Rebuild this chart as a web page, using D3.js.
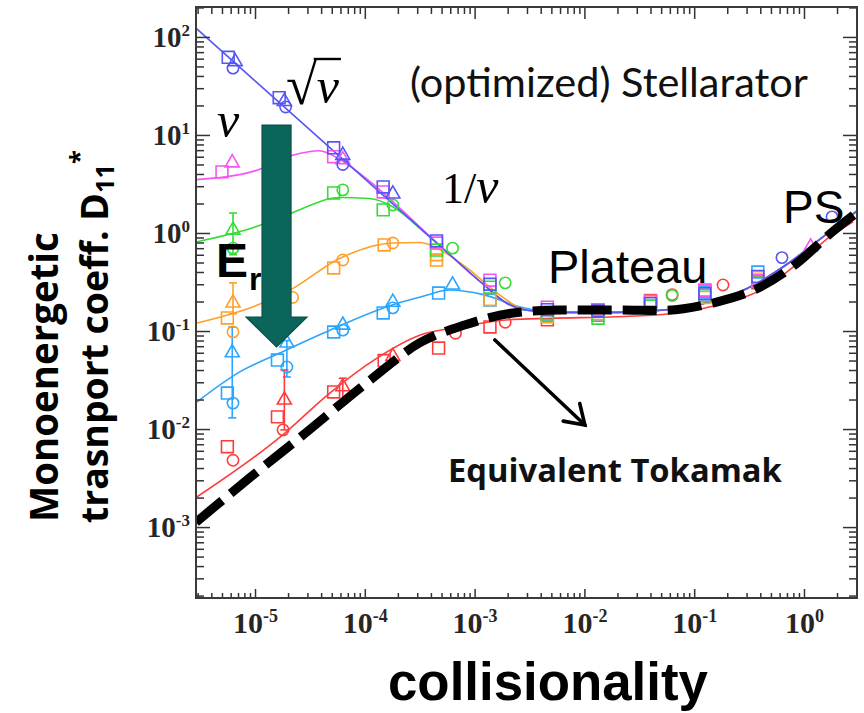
<!DOCTYPE html>
<html>
<head>
<meta charset="utf-8">
<script src="https://cdn.jsdelivr.net/npm/d3@7"></script>
<style>
  body { margin: 0; background: #fff; }
  svg { display: block; }
  .tick line { stroke: #333; stroke-width: 1.5; }
  .tick-label { font-family: "Liberation Serif", "Times New Roman", serif; font-weight: bold; fill: #262626; }
</style>
</head>
<body>
<div id="chart"></div>
<script>
// ---- Data (collisionality nu*, D11*) ----
const xDomain = [2.9e-6, 3.04];
const yDomain = [1.89e-4, 202];
const xMajor = [1e-5, 1e-4, 1e-3, 1e-2, 1e-1, 1];
const yMajor = [1e-3, 1e-2, 1e-1, 1, 10, 100];

// fitted curves
const blueFit = [[2.9e-6, 123], [1e-5, 35.7], [1e-4, 3.57], [5e-4, 0.715], [1.2e-3, 0.30], [2e-3, 0.19],
  [3e-3, 0.163], [6e-3, 0.155], [2e-2, 0.155], [5e-2, 0.163], [0.12, 0.19], [0.3, 0.27], [0.7, 0.48], [1.5, 0.92], [3.04, 1.68]];
const magentaHead = [[2.9e-6, 3.5], [1e-5, 4.3], [2.2e-5, 6.2], [3.8e-5, 6.9], [6.3e-5, 5.4], [1e-4, 3.7]];
const greenHead = [[2.9e-6, 0.81], [1e-5, 1.15], [2.1e-5, 1.58], [5.9e-5, 2.3], [1.1e-4, 2.25], [1.8e-4, 1.85], [3.4e-4, 1.04]];
const orangeHead = [[2.9e-6, 0.12], [1e-5, 0.18], [2.1e-5, 0.263], [5.9e-5, 0.55], [1.8e-4, 0.79], [3.2e-4, 0.8],
  [5e-4, 0.66], [9e-4, 0.42], [1.6e-3, 0.245]];
const lightBlueHead = [[2.9e-6, 0.0186], [6.9e-6, 0.037], [1.7e-5, 0.06], [4.8e-5, 0.102], [1.8e-4, 0.185], [3.2e-4, 0.222],
  [5.9e-4, 0.262], [1.2e-3, 0.235], [2.6e-3, 0.176]];
const redFit = [[2.9e-6, 2.0e-3], [1.7e-5, 8.3e-3], [4.8e-5, 0.0233], [1.26e-4, 0.052], [3.2e-4, 0.091], [7.4e-4, 0.11],
  [1.8e-3, 0.129], [5e-3, 0.135], [2e-2, 0.14], [6e-2, 0.15], [0.15, 0.18], [0.4, 0.26], [1, 0.55], [1.8, 0.95], [2.8, 1.3]];
const tokamakFit = [[2.9e-6, 1.12e-3], [9e-6, 3.2e-3], [2.57e-5, 8.2e-3], [1.12e-4, 0.0316], [3.18e-4, 0.076], [8.1e-4, 0.115],
  [2.24e-3, 0.153], [6e-3, 0.164], [2.1e-2, 0.164], [5e-2, 0.162], [0.148, 0.193], [0.397, 0.28], [0.86, 0.49], [1.8, 1.02], [3.04, 1.62]];

// markers: [shape, nu, D]   s = square, c = circle, t = triangle
const redMarks = [["s", 5.6e-6, 6.6e-3], ["c", 6.3e-6, 4.8e-3], ["s", 1.6e-5, 0.0133], ["t", 1.85e-5, 0.0198], ["c", 1.8e-5, 0.0098],
  ["s", 5.2e-5, 0.0239], ["t", 6.3e-5, 0.027], ["s", 1.5e-4, 0.05], ["t", 1.8e-4, 0.055], ["s", 4.7e-4, 0.067], ["c", 6.7e-4, 0.095],
  ["s", 1.38e-3, 0.11], ["c", 1.9e-3, 0.123], ["s", 4.6e-3, 0.13], ["s", 1.33e-2, 0.165], ["s", 4e-2, 0.205], ["c", 0.063, 0.235],
  ["s", 0.125, 0.26], ["c", 0.183, 0.295], ["s", 0.38, 0.31]];
const lightBlueMarks = [["t", 6.2e-6, 0.06], ["s", 5.6e-6, 0.0233], ["c", 6.3e-6, 0.0184], ["s", 1.6e-5, 0.0506], ["t", 1.95e-5, 0.0755],
  ["c", 1.95e-5, 0.043], ["s", 5.2e-5, 0.0977], ["t", 6.3e-5, 0.115], ["c", 6.3e-5, 0.102], ["s", 1.47e-4, 0.153], ["t", 1.8e-4, 0.197],
  ["c", 1.8e-4, 0.172], ["s", 4.7e-4, 0.244], ["t", 6.3e-4, 0.295], ["s", 1.38e-3, 0.207], ["s", 4.6e-3, 0.145], ["s", 1.33e-2, 0.145],
  ["s", 0.125, 0.25], ["s", 0.38, 0.4]];
const orangeMarks = [["t", 6.3e-6, 0.193], ["s", 5.6e-6, 0.136], ["c", 6.3e-6, 0.098], ["c", 2.2e-5, 0.22], ["s", 5.2e-5, 0.44],
  ["c", 6.3e-5, 0.53], ["s", 1.5e-4, 0.755], ["c", 1.8e-4, 0.79], ["s", 4.5e-4, 0.53], ["s", 4.5e-4, 0.6], ["s", 1.38e-3, 0.21],
  ["s", 4.6e-3, 0.14], ["s", 1.33e-2, 0.15], ["s", 4e-2, 0.2], ["s", 0.125, 0.22], ["s", 0.38, 0.35]];
const greenMarks = [["t", 6.3e-6, 1.07], ["c", 6.3e-6, 0.70], ["s", 5.2e-5, 2.56], ["c", 6.3e-5, 2.75], ["s", 1.47e-4, 1.72],
  ["c", 1.8e-4, 1.93], ["s", 4.5e-4, 0.67], ["c", 6.3e-4, 0.70], ["s", 1.38e-3, 0.28], ["c", 1.9e-3, 0.31], ["s", 4.6e-3, 0.15],
  ["s", 1.33e-2, 0.135], ["s", 4e-2, 0.18], ["c", 0.063, 0.23], ["s", 0.125, 0.23], ["s", 0.38, 0.32]];
const magentaMarks = [["s", 5.0e-6, 4.2], ["t", 6.2e-6, 5.2], ["s", 5.2e-5, 6.0], ["t", 6.3e-5, 5.6], ["s", 1.47e-4, 2.62],
  ["s", 4.5e-4, 0.79], ["s", 1.38e-3, 0.33], ["s", 4.6e-3, 0.175], ["s", 1.33e-2, 0.165], ["s", 4e-2, 0.2], ["s", 0.125, 0.26],
  ["s", 0.38, 0.33], ["t", 1.15, 0.72]];
const blueMarks = [["s", 5.7e-6, 62], ["c", 6.3e-6, 48], ["t", 6.6e-6, 56], ["s", 1.66e-5, 24], ["c", 1.9e-5, 19.3], ["t", 1.85e-5, 22],
  ["s", 5.2e-5, 7.4], ["t", 6.3e-5, 6.2], ["c", 6.3e-5, 5.0], ["s", 1.47e-4, 2.95], ["t", 1.8e-4, 2.5], ["s", 4.5e-4, 0.83],
  ["s", 1.38e-3, 0.30], ["s", 4.6e-3, 0.165], ["s", 1.33e-2, 0.16], ["s", 4e-2, 0.19], ["s", 0.125, 0.24], ["s", 0.38, 0.36],
  ["c", 0.63, 0.56], ["c", 1.8, 1.46]];

// error bars: [series, nu, low, high]
const errorBars = [["green", 6.3e-6, 0.6, 1.6], ["orange", 6.3e-6, 0.15, 0.31], ["lightBlue", 6.2e-6, 0.013, 0.11],
  ["lightBlue", 1.95e-5, 0.034, 0.08], ["red", 1.85e-5, 0.0098, 0.04], ["red", 6.3e-5, 0.018, 0.033]];

// annotations in data coordinates
const erArrow = { nu: 1.57e-5, top: 12.6, neck: 0.139, tip: 0.0687 };
const tokArrow = [[1.53e-3, 0.081], [0.0101, 0.011]];

const colors = { red: "#ff3c3c", lightBlue: "#2aa6ff", orange: "#ffa02a", green: "#36dc36", magenta: "#f455f4", blue: "#5656f6" };

// ---- Layout ----
const W = 864, H = 713;
const margin = { top: 7, left: 196, right: 7, bottom: 115 };
const width = W - margin.left - margin.right;
const height = H - margin.top - margin.bottom;

const svgRoot = d3.select('#chart').append('svg').attr('width', W).attr('height', H);
const svg = svgRoot.append('g').attr('transform', `translate(${margin.left},${margin.top})`);

const x = d3.scaleLog().domain(xDomain).range([0, width]);
const y = d3.scaleLog().domain(yDomain).range([height, 0]);

svg.append('clipPath').attr('id', 'plot-clip')
  .append('rect').attr('width', width).attr('height', height);
const plot = svg.append('g').attr('clip-path', 'url(#plot-clip)');

// --- Ticks ---
const xMinor = x.ticks().filter(d => !xMajor.some(m => Math.abs(m - d) / m < 1e-9));
const yMinor = y.ticks().filter(d => !yMajor.some(m => Math.abs(m - d) / m < 1e-9));

function supLabels(sel, fs, expFs) {
  sel.selectAll('.tick text').each(function (d) {
    const t = d3.select(this);
    t.text(null).attr('class', 'tick-label').attr('font-size', fs).attr('fill', null);
    t.append('tspan').text('10');
    t.append('tspan').attr('font-size', expFs).attr('dy', '-0.62em').text(Math.round(Math.log10(d)));
  });
}

const gx = svg.append('g').attr('transform', `translate(0,${height})`)
  .call(d3.axisBottom(x).tickValues(xMinor).tickSize(-5).tickFormat(''));
const gxM = svg.append('g').attr('transform', `translate(0,${height})`)
  .call(d3.axisBottom(x).tickValues(xMajor).tickSize(-9).tickPadding(14));
supLabels(gxM, 30, 18);
const gt = svg.append('g').call(d3.axisTop(x).tickValues(xMinor).tickSize(-7).tickFormat(''));
const gtM = svg.append('g').call(d3.axisTop(x).tickValues(xMajor).tickSize(-12).tickFormat(''));

const gy = svg.append('g').call(d3.axisLeft(y).tickValues(yMinor).tickSize(-8).tickFormat(''));
const gyM = svg.append('g').call(d3.axisLeft(y).tickValues(yMajor).tickSize(-14).tickPadding(6));
supLabels(gyM, 29, 17);
const gr = svg.append('g').attr('transform', `translate(${width},0)`)
  .call(d3.axisRight(y).tickValues(yMinor).tickSize(-8).tickFormat(''));
const grM = svg.append('g').attr('transform', `translate(${width},0)`)
  .call(d3.axisRight(y).tickValues(yMajor).tickSize(-14).tickFormat(''));
[gx, gxM, gt, gtM, gy, gyM, gr, grM].forEach(g => g.select('.domain').remove());

svg.append('rect').attr('width', width).attr('height', height)
  .attr('fill', 'none').attr('stroke', '#3a3a3a').attr('stroke-width', 2);

// --- Fitted curves ---
const line = d3.line().x(d => x(d[0])).y(d => y(d[1])).curve(d3.curveMonotoneX);
const withTail = head => head.concat(blueFit.filter(p => p[0] > head[head.length - 1][0] * 1.3));

const fits = [
  ['red', redFit],
  ['lightBlue', withTail(lightBlueHead)],
  ['orange', withTail(orangeHead)],
  ['green', withTail(greenHead)],
  ['magenta', withTail(magentaHead)],
  ['blue', blueFit]
];
fits.forEach(([k, pts]) => {
  plot.append('path').attr('d', line(pts))
    .attr('fill', 'none').attr('stroke', colors[k]).attr('stroke-width', 1.6);
});

// --- Error bars ---
errorBars.forEach(([k, nu, lo, hi]) => {
  const g = plot.append('g').attr('stroke', colors[k]).attr('stroke-width', 1.6);
  g.append('line').attr('x1', x(nu)).attr('x2', x(nu)).attr('y1', y(lo)).attr('y2', y(hi));
  [lo, hi].forEach(v => g.append('line').attr('x1', x(nu) - 4).attr('x2', x(nu) + 4).attr('y1', y(v)).attr('y2', y(v)));
});

// --- Markers ---
const symbolFor = { s: d3.symbol(d3.symbolSquare, 140), c: d3.symbol(d3.symbolCircle, 100), t: d3.symbol(d3.symbolTriangle, 85) };
const markSets = [['red', redMarks], ['lightBlue', lightBlueMarks], ['orange', orangeMarks], ['green', greenMarks],
  ['magenta', magentaMarks], ['blue', blueMarks]];
markSets.forEach(([k, marks]) => {
  plot.selectAll(null).data(marks).enter().append('path')
    .attr('d', d => symbolFor[d[0]]())
    .attr('transform', d => `translate(${x(d[1])},${y(d[2])})`)
    .attr('fill', 'none').attr('stroke', colors[k]).attr('stroke-width', 1.6);
});

// --- Equivalent tokamak (thick dashed) ---
plot.append('path').attr('d', line(tokamakFit))
  .attr('fill', 'none').attr('stroke', '#000').attr('stroke-width', 9)
  .attr('stroke-dasharray', '34,11');

// --- E_r arrow ---
{
  const cx = x(erArrow.nu), yt = y(erArrow.top), yn = y(erArrow.neck), yp = y(erArrow.tip);
  const sw = 14.5, hw = 30.5;
  svg.append('path')
    .attr('d', `M${cx - sw},${yt}H${cx + sw}V${yn}H${cx + hw}L${cx},${yp}L${cx - hw},${yn}H${cx - sw}Z`)
    .attr('fill', '#0a665a').attr('stroke', '#0b4f46').attr('stroke-width', 1.2);
}

// --- Tokamak pointer arrow ---
{
  const [a, b] = tokArrow.map(p => [x(p[0]), y(p[1])]);
  const ang = Math.atan2(b[1] - a[1], b[0] - a[0]);
  const L = 22, spread = 0.58;
  const g = svg.append('g').attr('stroke', '#000').attr('stroke-width', 3.6).attr('fill', 'none').attr('stroke-linecap', 'round');
  g.append('line').attr('x1', a[0]).attr('y1', a[1]).attr('x2', b[0]).attr('y2', b[1]);
  g.append('path').attr('d',
    `M${b[0] - L * Math.cos(ang - spread)},${b[1] - L * Math.sin(ang - spread)}L${b[0]},${b[1]}` +
    `L${b[0] - L * Math.cos(ang + spread)},${b[1] - L * Math.sin(ang + spread)}`);
}

// --- Text annotations (absolute page coordinates) ---
// scale a text's font size so that its advance matches the reference width
function fitWidth(sel, target) {
  const fs = +sel.attr('font-size');
  const len = sel.node().getComputedTextLength();
  sel.attr('font-size', fs * target / len);
  return sel;
}

const ann = svgRoot.append('g');
fitWidth(ann.append('text').attr('x', 410).attr('y', 97)
  .attr('font-family', 'Lato, "Open Sans", sans-serif').attr('font-size', 40).attr('fill', '#111')
  .text('(optimized) Stellarator'), 398);

ann.append('text').attr('x', 217).attr('y', 137)
  .attr('font-family', '"Liberation Serif", serif').attr('font-style', 'italic').attr('font-size', 50)
  .text('ν');

// sqrt(nu): radical sign, nu, and the vinculum over nu
const rad = ann.append('text').attr('x', 286).attr('y', 104)
  .attr('font-family', '"Liberation Serif", serif').attr('font-size', 56).text('√');
const radEnd = 286 + rad.node().getComputedTextLength();
const nuS = ann.append('text').attr('x', radEnd).attr('y', 103)
  .attr('font-family', '"Liberation Serif", serif').attr('font-style', 'italic').attr('font-size', 50).text('ν');
const nuEnd = radEnd + nuS.node().getComputedTextLength();
ann.append('line').attr('x1', radEnd - 3).attr('x2', nuEnd + 2)
  .attr('y1', 59).attr('y2', 59).attr('stroke', '#000').attr('stroke-width', 2.4);

const inv = ann.append('text').attr('x', 442).attr('y', 203)
  .attr('font-family', '"Liberation Serif", serif').attr('font-size', 44);
inv.append('tspan').text('1/');
inv.append('tspan').attr('font-style', 'italic').attr('font-size', 50).text('ν');

ann.append('text').attr('x', 548).attr('y', 283)
  .attr('font-family', '"Liberation Sans", Arial, sans-serif').attr('font-size', 47).text('Plateau');
ann.append('text').attr('x', 783).attr('y', 223)
  .attr('font-family', '"Liberation Sans", Arial, sans-serif').attr('font-size', 46).text('PS');

ann.append('text').attr('x', 216).attr('y', 277)
  .attr('font-family', '"Liberation Sans", Arial, sans-serif').attr('font-weight', 'bold').attr('font-size', 48).text('E');
ann.append('text').attr('x', 249).attr('y', 290)
  .attr('font-family', '"Liberation Sans", Arial, sans-serif').attr('font-weight', 'bold').attr('font-size', 32).text('r');

fitWidth(ann.append('text').attr('x', 448).attr('y', 482)
  .attr('font-family', '"Open Sans", Lato, sans-serif').attr('font-weight', 'bold').attr('font-size', 32).attr('fill', '#111')
  .text('Equivalent Tokamak'), 334);

// --- Axis titles ---
fitWidth(ann.append('text').attr('x', 388).attr('y', 700)
  .attr('font-family', '"Liberation Sans", Arial, sans-serif').attr('font-weight', 'bold').attr('font-size', 52)
  .text('collisionality'), 320);

fitWidth(ann.append('text').attr('transform', 'translate(58,522) rotate(-90)')
  .attr('font-family', '"Open Sans", Lato, sans-serif').attr('font-weight', 'bold').attr('font-size', 36)
  .text('Monoenergetic'), 290);
const yt2 = ann.append('text').attr('transform', 'translate(108,523) rotate(-90)')
  .attr('font-family', '"Open Sans", Lato, sans-serif').attr('font-weight', 'bold').attr('font-size', 35);
yt2.append('tspan').text('trasnport coeff. D');
yt2.append('tspan').attr('font-size', '0.68em').attr('dy', '0.25em').text('11');
yt2.append('tspan').attr('font-size', '0.68em').attr('dy', '-1.05em').text('*');
fitWidth(yt2, 373);
</script>
</body>
</html>
